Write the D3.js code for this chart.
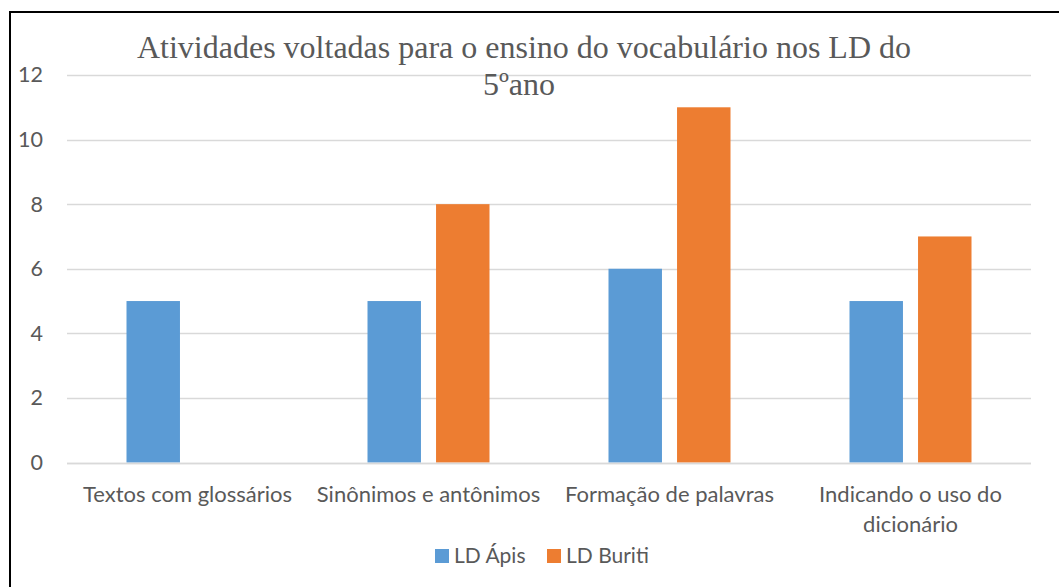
<!DOCTYPE html>
<html><head><meta charset="utf-8">
<script src="https://cdn.jsdelivr.net/npm/d3@7"></script>
<style>html,body{margin:0;padding:0;background:#fff;}svg{display:block;}</style>
</head><body>
<svg id="c" width="1059" height="587"></svg>
<script>
const categories = [["Textos com glossários"], ["Sinônimos e antônimos"], ["Formação de palavras"], ["Indicando o uso do", "dicionário"]];
const seriesNames = ["LD Ápis", "LD Buriti"];
const apis = [5, 5, 6, 5];
const buriti = [null, 8, 11, 7];
const yTicks = [0, 2, 4, 6, 8, 10, 12];
const titleLines = ["Atividades voltadas para o ensino do vocabulário nos LD do", "5ºano"];
const colors = ["#5b9bd5", "#ed7d31"];

const svg = d3.select("#c");
svg.append("rect").attr("x",0).attr("y",0).attr("width",1059).attr("height",587).attr("fill","#fff");
// partial border (top & left visible)
svg.append("line").attr("x1",10).attr("x2",1059).attr("y1",12).attr("y2",12).attr("stroke","#000").attr("stroke-width",2);
svg.append("line").attr("x1",10).attr("x2",10).attr("y1",11).attr("y2",587).attr("stroke","#000").attr("stroke-width",2);

const left = 67, right = 1031;
const y = d3.scaleLinear().domain([0, 12]).range([462.5, 75]);
const x0 = d3.scaleBand().domain(d3.range(categories.length)).range([left, right]).paddingInner(0).paddingOuter(0);
const x1 = d3.scaleBand().domain([0,1]).range([59.5, x0.bandwidth()-59.5]).paddingInner(0.22);

// gridlines
svg.append("g").selectAll("line").data(yTicks).join("line")
  .attr("x1", left).attr("x2", right)
  .attr("y1", d => Math.round(y(d))+0.5).attr("y2", d => Math.round(y(d))+0.5)
  .attr("stroke", "#d9d9d9").attr("stroke-width", 1.3);

// y tick labels
const yAxis = d3.axisLeft(y).tickValues(yTicks).tickSize(0).tickPadding(0);
const ga = svg.append("g").attr("transform", "translate(43,0)").call(yAxis);
ga.select(".domain").remove();
ga.selectAll("text").attr("font-family", "Lato, 'Open Sans', sans-serif").attr("font-size", 21.5).attr("fill", "#595959");

// bars
const series = [apis, buriti];
series.forEach((vals, si) => {
  svg.append("g").selectAll("rect").data(vals.map((v,i)=>({v,i})).filter(d=>d.v!=null)).join("rect")
    .attr("x", d => x0(d.i) + x1(si))
    .attr("width", x1.bandwidth())
    .attr("y", d => y(d.v))
    .attr("height", d => y(0) - y(d.v))
    .attr("fill", colors[si]);
});
// axis baseline over bars
svg.append("line").attr("x1", left).attr("x2", right).attr("y1", Math.round(y(0))+0.5).attr("y2", Math.round(y(0))+0.5)
  .attr("stroke", "#d9d9d9").attr("stroke-width", 1.3);

// category labels
const xAxis = d3.axisBottom(x0).tickSize(0).tickFormat(() => "");
svg.append("g").attr("transform", `translate(0,${y(0)})`).call(xAxis).select(".domain").remove();
const cl = svg.append("g");
categories.forEach((lines, i) => {
  const t = cl.append("text").attr("x", x0(i) + x0.bandwidth()/2).attr("y", 502)
    .attr("text-anchor", "middle").attr("font-family", "Lato, 'Open Sans', sans-serif")
    .attr("font-size", 22).attr("fill", "#595959");
  lines.forEach((l, k) => t.append("tspan").attr("x", x0(i) + x0.bandwidth()/2).attr("dy", k ? 30 : 0).text(l));
});

// title
const tt = svg.append("text").attr("text-anchor", "middle").attr("font-family", "'Liberation Serif', 'Times New Roman', serif")
  .attr("font-size", 32).attr("fill", "#595959");
tt.append("tspan").attr("x", 524).attr("y", 58).text(titleLines[0]);
tt.append("tspan").attr("x", 519).attr("y", 95).text(titleLines[1]);

// legend
const lg = svg.append("g");
const legX = [435, 547];
seriesNames.forEach((n, i) => {
  lg.append("rect").attr("x", legX[i]).attr("y", 549).attr("width", 14).attr("height", 14).attr("fill", colors[i]);
  lg.append("text").attr("x", legX[i] + 19).attr("y", 563).attr("font-family", "Lato, 'Open Sans', sans-serif")
    .attr("font-size", 21).attr("fill", "#595959").text(n);
});
</script>
</body></html>
